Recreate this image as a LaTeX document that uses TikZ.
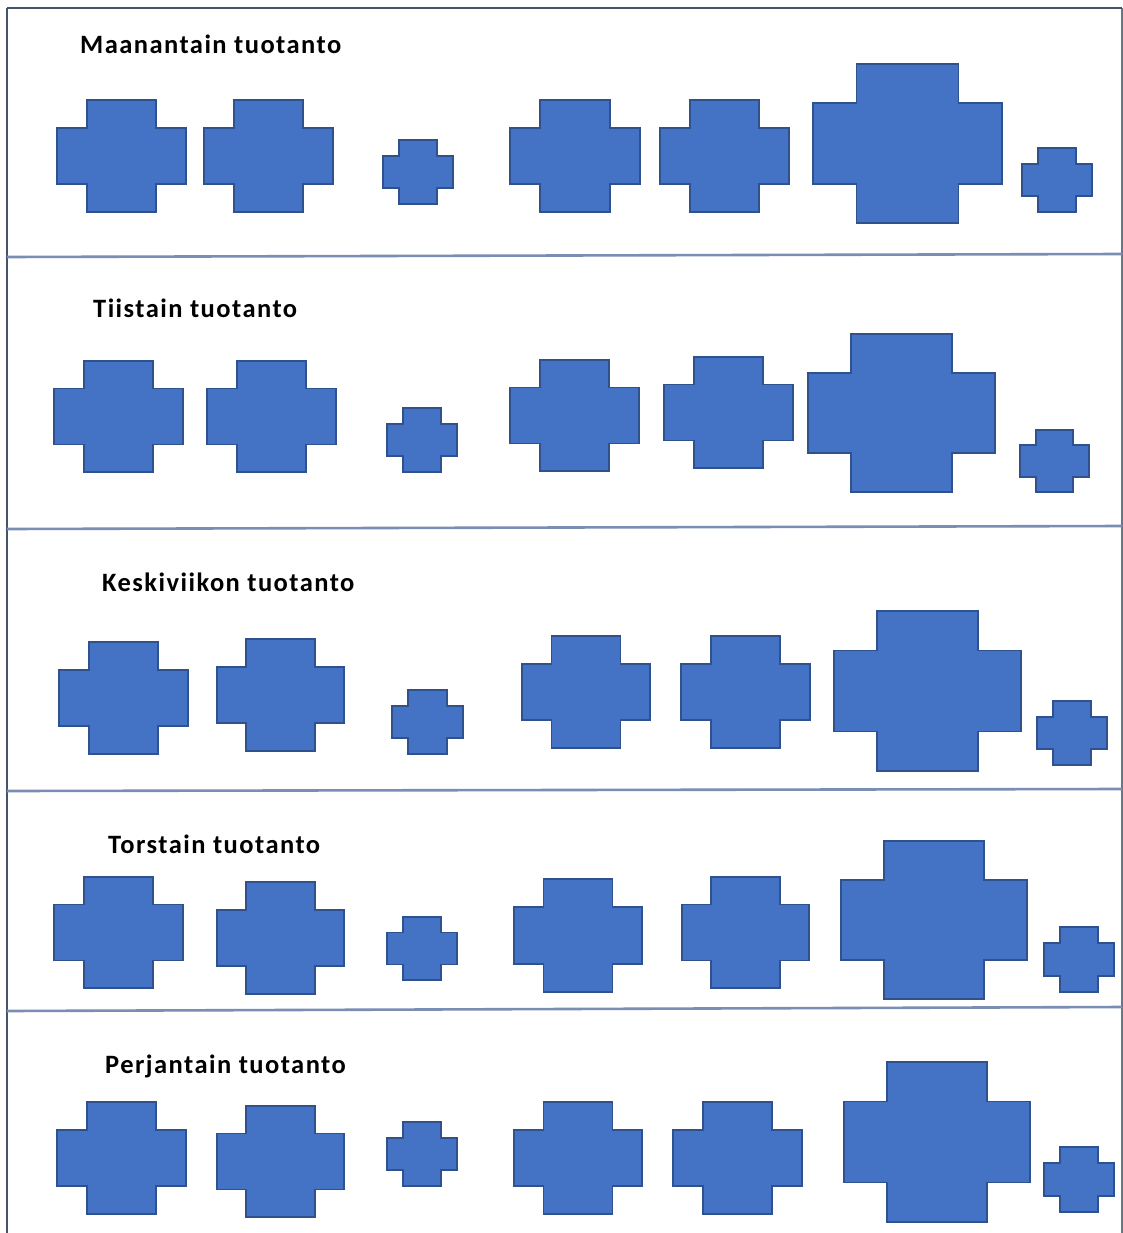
\documentclass[tikz,border=0pt]{standalone}
\usepackage{fontspec}
\setmainfont{Carlito}
\newfontfamily\labelfont[LetterSpace=5.5]{Carlito}
\definecolor{crossfill}{HTML}{4472C4}
\definecolor{crossline}{HTML}{2F528F}
\definecolor{framecol}{HTML}{44546A}
\definecolor{divcol}{HTML}{7A8DB3}
\tikzset{
  crossstyle/.style={fill=crossfill, draw=crossline, line width=1.8pt, line join=miter},
  framestyle/.style={draw=framecol, line width=2.6pt},
  rightstyle/.style={draw=framecol!80, line width=1.5pt},
  divstyle/.style={draw=divcol, line width=2.6pt},
  daylabel/.style={anchor=base west, inner sep=0pt, font=\labelfont\fontsize{26.5}{30}\selectfont\bfseries, text=black}
}
\newcommand\plusshape[4]{%
  \pgfmathsetmacro\pax{#1+0.23*(#3-#1)}%
  \pgfmathsetmacro\pbx{#3-0.23*(#3-#1)}%
  \pgfmathsetmacro\pay{#2+0.247*(#4-#2)}%
  \pgfmathsetmacro\pby{#4-0.247*(#4-#2)}%
  \draw[crossstyle] (\pax,-#2) -- (\pbx,-#2) -- (\pbx,-\pay) -- (#3,-\pay) -- (#3,-\pby) -- (\pbx,-\pby) -- (\pbx,-#4) -- (\pax,-#4) -- (\pax,-\pby) -- (#1,-\pby) -- (#1,-\pay) -- (\pax,-\pay) -- cycle;%
}
\begin{document}
\begin{tikzpicture}[x=1pt,y=1pt]
\fill[white] (0,0) rectangle (1123,-1233);
\useasboundingbox (0,0) rectangle (1123,-1233);
% frame
\coordinate (tl) at (7,-8);
\coordinate (tr) at (1122,-8);
\coordinate (bl) at (7,-1233);
\coordinate (br) at (1122,-1233);
\draw[rightstyle] (tr) -- (br);
\draw[framestyle] (tl) -- (tr);
\draw[framestyle] (tl) -- (bl);
% dividers
\coordinate (d1l) at (7,-257); \coordinate (d1r) at (1122,-254);
\coordinate (d2l) at (7,-529); \coordinate (d2r) at (1122,-526);
\coordinate (d3l) at (7,-791); \coordinate (d3r) at (1122,-789);
\coordinate (d4l) at (7,-1011); \coordinate (d4r) at (1122,-1007);
\draw[divstyle] (d1l) -- (d1r);
\draw[divstyle] (d2l) -- (d2r);
\draw[divstyle] (d3l) -- (d3r);
\draw[divstyle] (d4l) -- (d4r);
% labels
\node[daylabel] (l1) at (80,-54) {Maanantain tuotanto};
\node[daylabel] (l2) at (93,-317) {Tiistain tuotanto};
\node[daylabel] (l3) at (102,-591) {Keskiviikon tuotanto};
\node[daylabel] (l4) at (108,-853) {Torstain tuotanto};
\node[daylabel] (l5) at (105,-1073) {Perjantain tuotanto};
% row 1
\plusshape{57}{100}{186}{212}
\plusshape{204}{100}{333}{212}
\plusshape{383}{140}{453}{204}
\plusshape{510}{100}{640}{212}
\plusshape{660}{100}{789}{212}
\plusshape{813}{64}{1002}{223}
\plusshape{1022}{148}{1092}{212}
% row 2
\plusshape{54}{361}{183}{472}
\plusshape{207}{361}{336}{472}
\plusshape{387}{408}{457}{472}
\plusshape{510}{360}{639}{471}
\plusshape{664}{357}{793}{468}
\plusshape{808}{334}{995}{492}
\plusshape{1020}{430}{1089}{492}
% row 3
\plusshape{59}{642}{188}{754}
\plusshape{217}{639}{344}{751}
\plusshape{392}{690}{463}{754}
\plusshape{522}{636}{650}{748}
\plusshape{681}{636}{810}{748}
\plusshape{834}{611}{1021}{771}
\plusshape{1037}{701}{1107}{765}
% row 4
\plusshape{54}{877}{183}{988}
\plusshape{217}{882}{344}{994}
\plusshape{387}{917}{457}{980}
\plusshape{514}{879}{642}{992}
\plusshape{682}{877}{809}{988}
\plusshape{841}{841}{1027}{999}
\plusshape{1044}{927}{1114}{992}
% row 5
\plusshape{57}{1102}{186}{1214}
\plusshape{217}{1106}{344}{1217}
\plusshape{387}{1122}{457}{1186}
\plusshape{514}{1102}{642}{1214}
\plusshape{673}{1102}{802}{1214}
\plusshape{844}{1062}{1030}{1222}
\plusshape{1044}{1147}{1114}{1212}
\end{tikzpicture}
\end{document}
